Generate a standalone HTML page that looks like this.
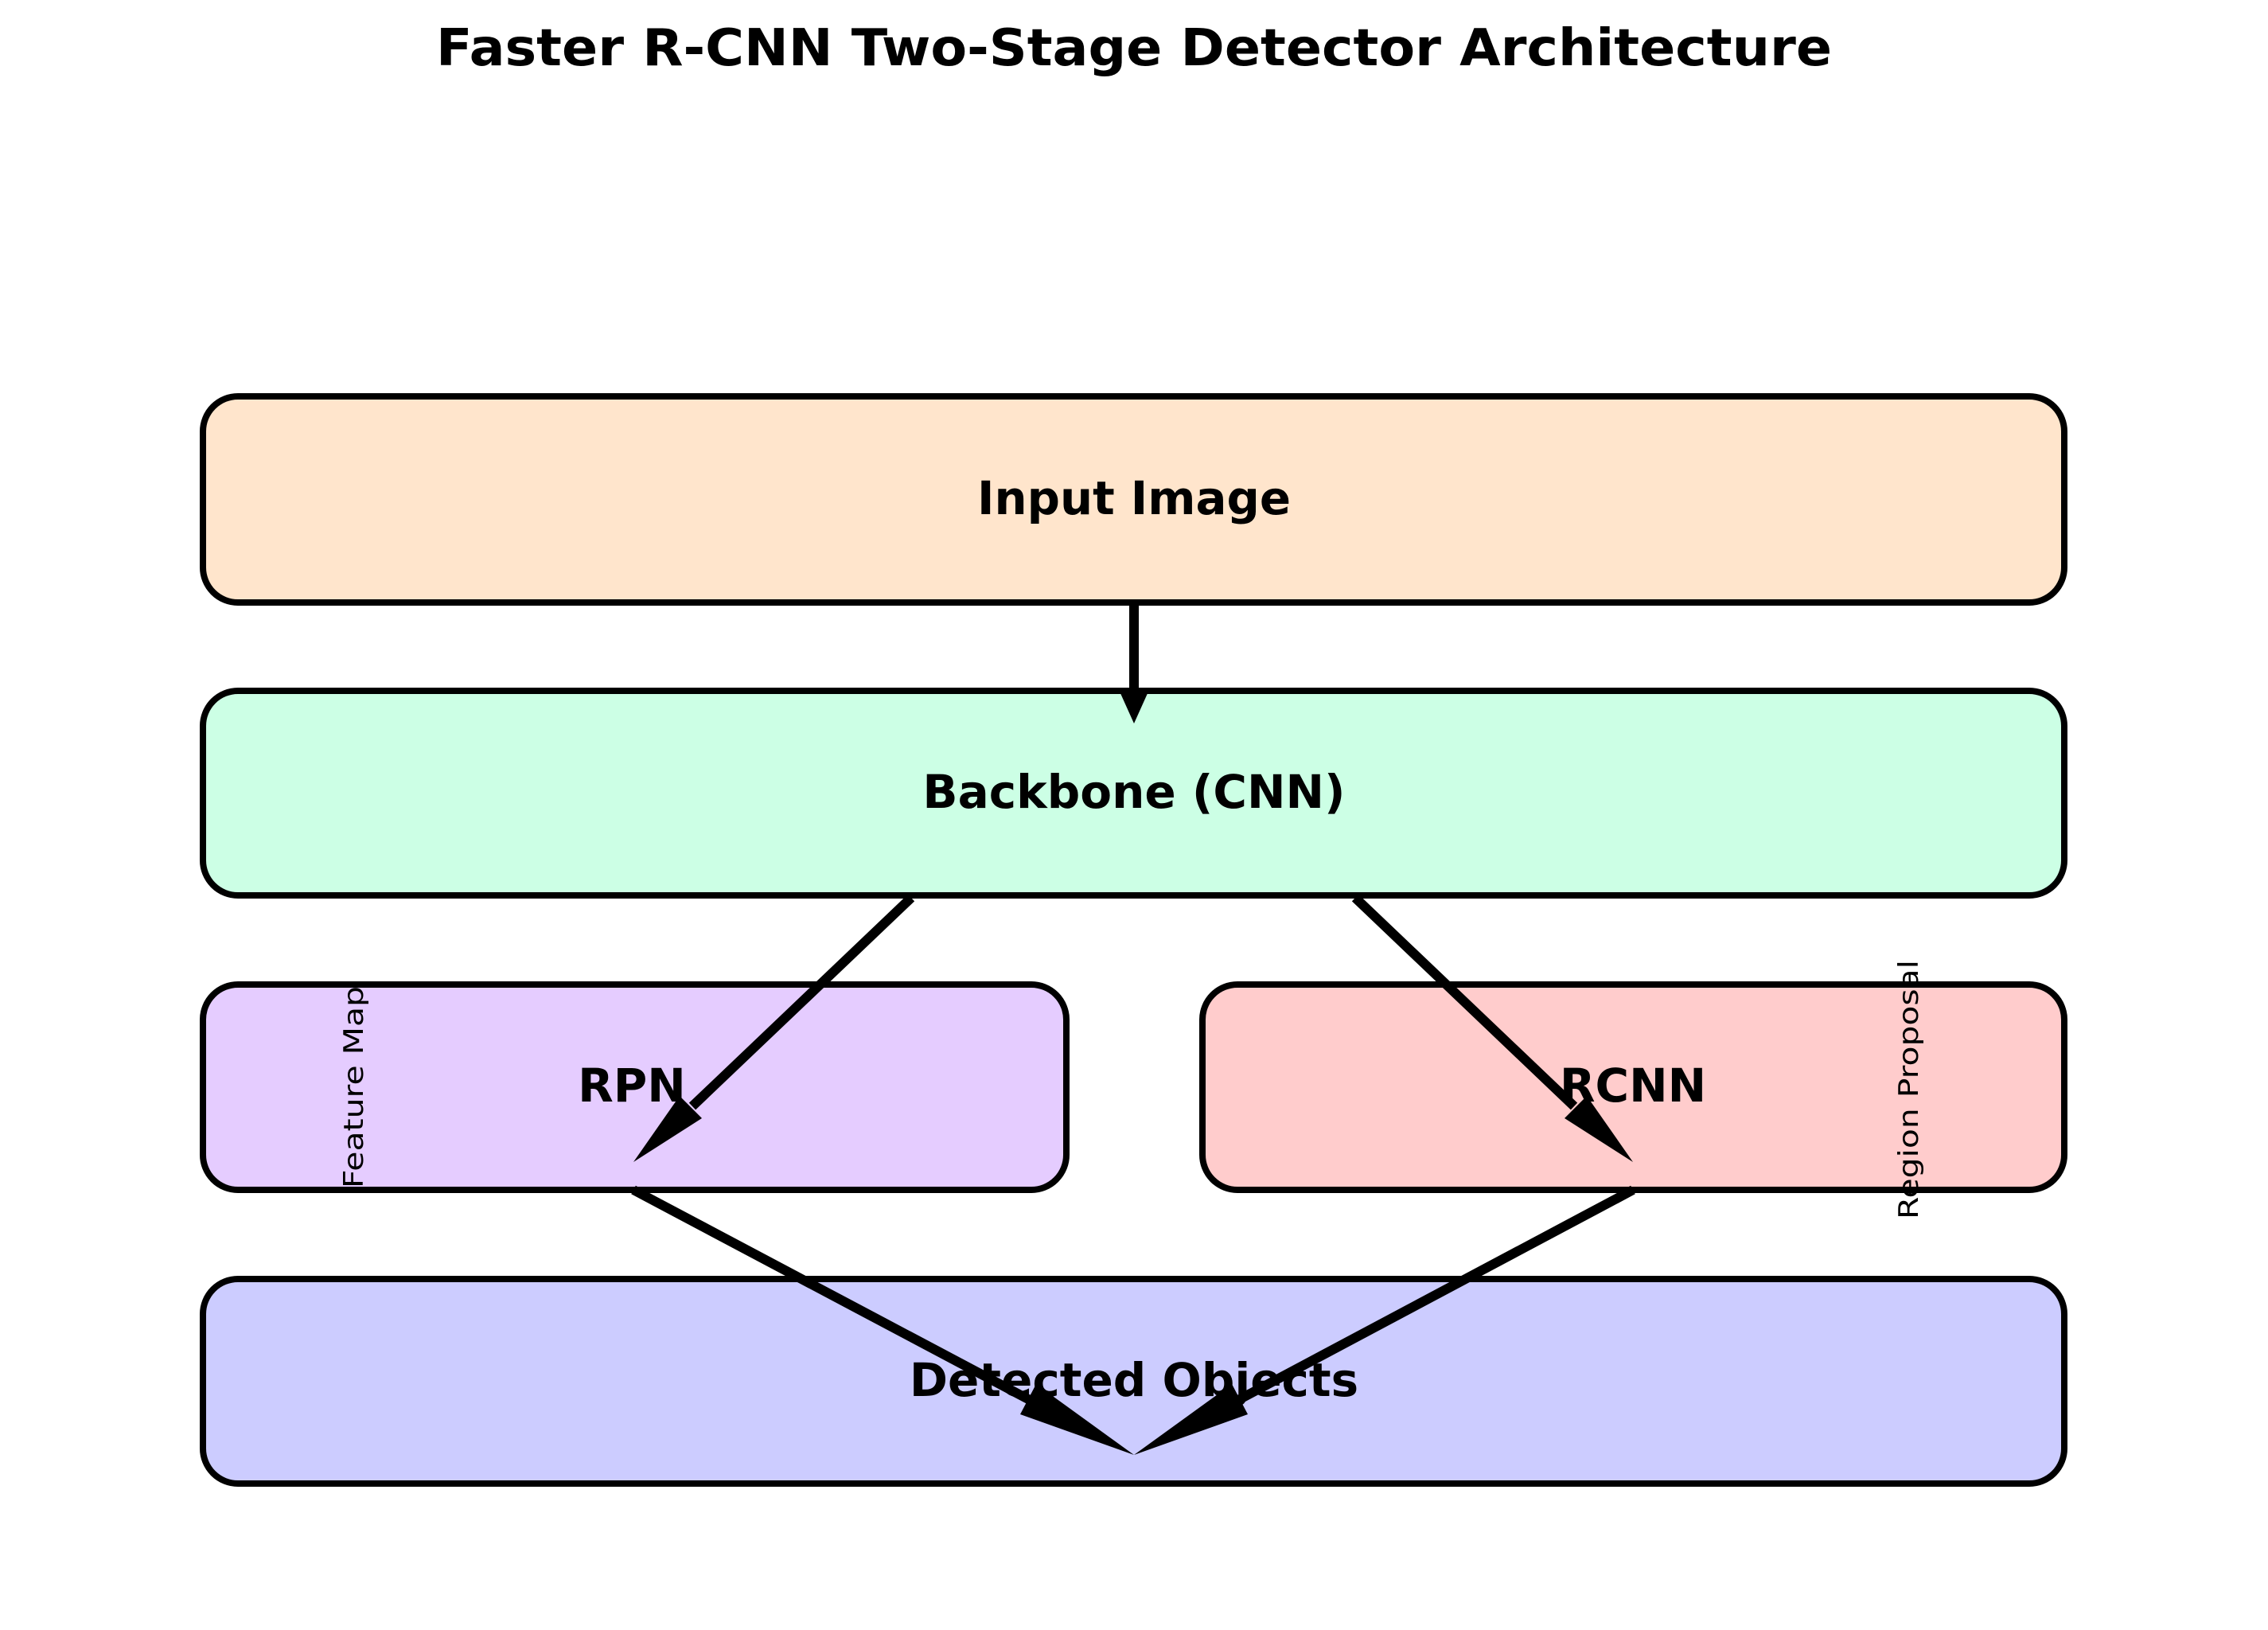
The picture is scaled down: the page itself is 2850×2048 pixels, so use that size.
<!DOCTYPE html>
<html><head><meta charset="utf-8"><style>html,body{margin:0;padding:0;background:#fff}</style></head>
<body>
<svg width="2850" height="2043" viewBox="0 0 2850 2043" xmlns="http://www.w3.org/2000/svg" font-family="DejaVu Sans, Liberation Sans, sans-serif">
<rect width="2850" height="2043" fill="#fff"/>
<text x="1425" y="61" text-anchor="middle" dominant-baseline="central" font-weight="bold" font-size="64" textLength="1754" lengthAdjust="spacingAndGlyphs">Faster R-CNN Two-Stage Detector Architecture</text>
<g stroke="#000" stroke-width="8">
<rect x="255" y="498" width="2339" height="259" rx="44" fill="#FFE5CC"/>
<rect x="255" y="868" width="2339" height="257" rx="44" fill="#CCFFE5"/>
<rect x="255" y="1237" width="1085" height="258" rx="44" fill="#E5CCFF"/>
<rect x="1511" y="1237" width="1083" height="258" rx="44" fill="#FFCCCC"/>
<rect x="255" y="1607" width="2339" height="257" rx="44" fill="#CCCCFF"/>
</g>
<g font-weight="bold" font-size="58" text-anchor="middle" dominant-baseline="central">
<text x="1425" y="626" textLength="394" lengthAdjust="spacingAndGlyphs">Input Image</text>
<text x="1425" y="995">Backbone (CNN)</text>
<text x="794" y="1364">RPN</text>
<text x="2052" y="1364">RCNN</text>
<text x="1425" y="1734">Detected Objects</text>
</g>
<g font-size="34" text-anchor="middle" dominant-baseline="central">
<text transform="translate(445,1366) rotate(-90)" textLength="254" lengthAdjust="spacingAndGlyphs">Feature Map</text>
<text transform="translate(2399,1369) rotate(-90)" textLength="326" lengthAdjust="spacingAndGlyphs">Region Proposal</text>
</g>
<g stroke="#000" stroke-width="12" fill="none">
<line x1="1425" y1="756" x2="1425" y2="875"/>
<line x1="1145" y1="1128" x2="870" y2="1390"/>
<line x1="1703" y1="1128" x2="1978" y2="1390"/>
<line x1="796" y1="1495" x2="1294" y2="1759"/>
<line x1="2052" y1="1495" x2="1556" y2="1759"/>
</g>
<g fill="#000">
<polygon points="1425,909 1407,869 1443,869"/>
<polygon points="796,1460 882,1405 854,1377"/>
<polygon points="2052,1460 1966,1405 1994,1377"/>
<polygon points="1425,1828 1282,1777 1302,1739"/>
<polygon points="1425,1828 1568,1777 1548,1739"/>
</g>
</svg>
</body></html>
